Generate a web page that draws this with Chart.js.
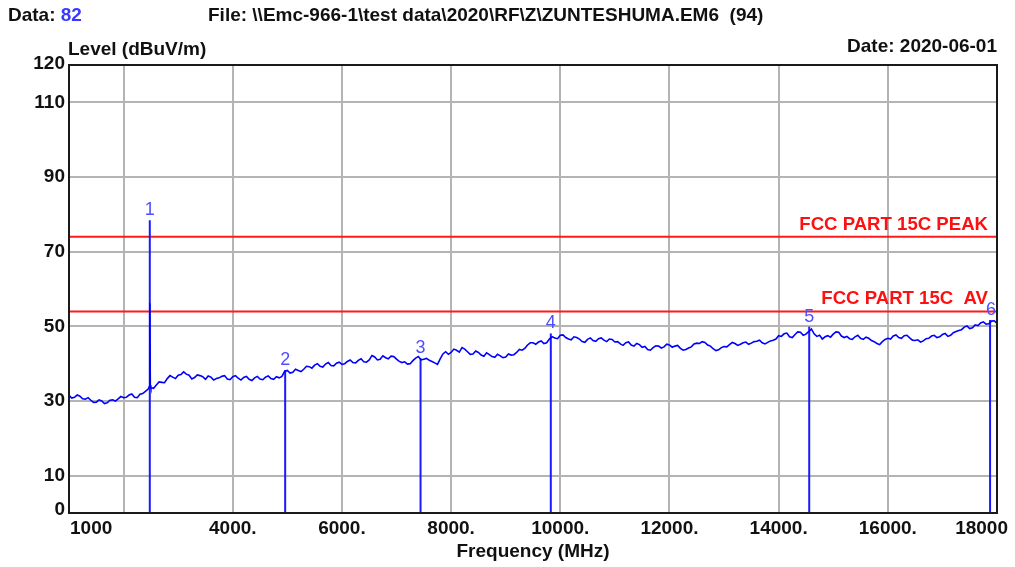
<!DOCTYPE html>
<html>
<head>
<meta charset="utf-8">
<script src="https://cdn.jsdelivr.net/npm/chart.js@4.4.1/dist/chart.umd.min.js"></script>
<style>
  html, body { margin: 0; padding: 0; background: #ffffff; }
  #wrap { width: 1015px; height: 567px; position: relative; }
  canvas { display: block; }
</style>
</head>
<body>
<div id="wrap"><canvas id="c" width="1015" height="567"></canvas></div>
<script>
// ---------------- data ----------------
// sweep readings at 1000, 1100, ... 18000 MHz
const traceStartMHz = 1000;
const traceStepMHz = 100;
const traceLevels = [
  31.5, 31.0, 31.3, 30.5, 30.2, 29.7, 30.0, 29.5, 30.3, 30.6,
  30.9, 31.6, 31.0, 31.8, 32.6, 33.6, 34.3, 35.0, 36.0, 36.4,
  36.9, 37.8, 36.9, 36.3, 36.8, 35.8, 36.4, 36.0, 36.6, 35.9,
  36.5, 36.1, 36.3, 35.8, 36.2, 35.9, 36.4, 36.0, 36.5, 36.6,
  38.2, 37.7, 38.2, 38.5, 39.2, 39.6, 39.3, 39.9, 39.5, 40.1,
  39.8, 40.6, 40.3, 40.9, 40.5, 41.0, 41.8, 41.2, 41.6, 42.0,
  41.2, 40.3, 39.9, 40.8, 41.9, 41.2, 40.9, 40.2, 41.3, 43.2,
  43.0, 43.6, 44.3, 43.2, 42.6, 43.0, 42.0, 42.4, 41.7, 42.1,
  41.8, 42.3, 43.0, 43.6, 45.0, 45.6, 45.8, 45.4, 46.6, 46.9,
  47.6, 47.0, 46.4, 47.0, 45.9, 46.5, 46.2, 46.7, 46.3, 46.6,
  45.8, 45.3, 45.6, 45.0, 45.4, 44.4, 43.8, 44.3, 44.7, 44.5,
  45.0, 44.7, 44.1, 43.8, 44.5, 45.5, 45.9, 45.0, 44.0, 43.7,
  44.6, 45.1, 45.4, 45.2, 45.8, 45.5, 46.0, 45.6, 45.7, 46.3,
  47.5, 48.0, 47.2, 47.8, 48.4, 47.9, 49.3, 47.3, 46.6, 47.5,
  47.9, 48.4, 47.0, 46.7, 47.2, 46.8, 47.1, 46.2, 45.4, 45.9,
  46.8, 47.4, 47.0, 47.5, 46.9, 46.2, 45.8, 46.7, 47.4, 47.0,
  47.8, 47.3, 48.3, 48.9, 49.8, 49.4, 50.4, 50.9, 50.6, 51.4,
  50.8
];
// sweep readings at 1050, 1150, ... 17950 MHz
const traceMidStartMHz = 1050;
const traceMidLevels = [
  30.8, 31.6, 30.6, 30.9, 29.6, 30.3, 29.3, 30.2, 30.0, 31.2,
  31.0, 31.9, 30.9, 32.0, 33.2, 33.4, 35.1, 34.9, 36.8, 36.0,
  37.1, 37.2, 35.9, 37.0, 36.5, 36.7, 35.6, 36.2, 36.8, 35.7,
  36.8, 35.6, 36.6, 35.5, 36.6, 35.7, 36.7, 35.8, 36.2, 37.9,
  37.5, 38.5, 37.9, 39.3, 38.8, 40.0, 39.1, 40.3, 39.4, 40.4,
  40.0, 41.0, 40.2, 41.3, 40.4, 42.2, 41.0, 42.1, 41.3, 41.9,
  40.6, 40.5, 40.0, 41.5, 41.0, 41.4, 40.6, 39.8, 42.6, 42.5,
  43.9, 43.1, 43.9, 42.5, 43.4, 42.3, 42.9, 41.9, 42.5, 41.6,
  42.6, 42.4, 43.8, 44.1, 45.6, 45.2, 46.1, 45.6, 47.2, 46.7,
  47.7, 46.6, 47.2, 46.6, 45.7, 46.9, 46.0, 46.9, 45.9, 46.5,
  45.9, 44.9, 45.8, 44.7, 45.1, 44.6, 43.6, 44.8, 44.2, 45.2,
  44.4, 44.9, 43.6, 44.2, 45.3, 45.4, 45.7, 44.7, 43.5, 44.3,
  44.5, 45.7, 44.9, 45.6, 45.2, 45.9, 46.3, 45.3, 46.1, 46.6,
  47.3, 48.2, 47.0, 48.5, 47.6, 48.6, 48.0, 47.6, 47.2, 47.1,
  48.5, 47.4, 47.3, 46.5, 47.6, 46.5, 46.8, 45.9, 45.1, 46.5,
  46.6, 47.7, 46.8, 47.6, 46.3, 46.4, 46.1, 46.8, 47.6, 47.2,
  48.1, 47.6, 48.6, 49.1, 50.1, 49.6, 50.2, 51.2, 50.7, 51.5
];
// narrow carrier spike in the trace
const spikeFreqs = [2470, 2480, 2490];
const spikeLevels = [33.8, 56.2, 34.2];

// markers
const markerNames = ['1', '2', '3', '4', '5', '6'];
const markerFreqs = [2480, 4960, 7440, 9826, 14560, 17873];
const markerLevels = [78.4, 38.3, 41.5, 48.1, 49.9, 51.7];

// limit lines
const limitNames = ['FCC PART 15C PEAK', 'FCC PART 15C  AV'];
const limitLevels = [74, 54];

// axes
const xMin = 1000, xMax = 18000;
const xGridValues = [2000, 4000, 6000, 8000, 10000, 12000, 14000, 16000, 18000];
const xTickValues = [1000, 4000, 6000, 8000, 10000, 12000, 14000, 16000, 18000];
const xTickLabels = ['1000', '4000.', '6000.', '8000.', '10000.', '12000.', '14000.', '16000.', '18000'];
const yMin = 0, yMax = 120;
const yTickValues = [0, 10, 30, 50, 70, 90, 110, 120];
const yTickLabels = ['0', '10', '30', '50', '70', '90', '110', '120'];

const headerData = '82';
const headerFile = 'File: \\\\Emc-966-1\\test data\\2020\\RF\\Z\\ZUNTESHUMA.EM6  (94)';
const headerDate = 'Date: 2020-06-01';
const yTitle = 'Level (dBuV/m)';
const xTitle = 'Frequency (MHz)';

// ---------------- build ----------------
const tracePts = traceLevels.map((v, i) => ({ x: traceStartMHz + i * traceStepMHz, y: v }));
traceMidLevels.forEach((v, i) => tracePts.push({ x: traceMidStartMHz + i * traceStepMHz, y: v }));
spikeFreqs.forEach((f, i) => tracePts.push({ x: f, y: spikeLevels[i] }));
tracePts.sort((a, b) => a.x - b.x);

const FONT = '"Liberation Sans", Arial, sans-serif';
const TXT = '#111111';

const datasets = [];
datasets.push({
  label: 'trace', data: tracePts, borderColor: '#0000ff', borderWidth: 1.6,
  pointRadius: 0, tension: 0, order: 1
});
markerFreqs.forEach((f, i) => {
  datasets.push({
    label: 'marker' + markerNames[i],
    data: [{ x: f, y: 0 }, { x: f, y: markerLevels[i] }],
    borderColor: '#1a1aff', borderWidth: 2, pointRadius: 0, order: 2
  });
});
limitLevels.forEach((v, i) => {
  datasets.push({
    label: limitNames[i],
    data: [{ x: xMin, y: v }, { x: xMax, y: v }],
    borderColor: '#ff1a1a', borderWidth: 2, pointRadius: 0, order: 3
  });
});

const decor = {
  id: 'decor',
  afterDraw(chart) {
    const c = chart.ctx;
    const a = chart.chartArea;
    const xs = chart.scales.x, ys = chart.scales.y;
    c.save();
    // plot border
    c.strokeStyle = '#1a1a1a';
    c.lineWidth = 2;
    c.strokeRect(a.left, a.top, a.right - a.left, a.bottom - a.top);

    // y tick labels
    c.fillStyle = TXT;
    c.font = 'bold 19px ' + FONT;
    c.textAlign = 'right';
    c.textBaseline = 'middle';
    yTickValues.forEach((v, i) => {
      let y = ys.getPixelForValue(v);
      if (v === yMin) y -= 3;
      if (v === yMax) y -= 1;
      c.fillText(yTickLabels[i], a.left - 4, y);
    });
    // x tick labels
    xTickValues.forEach((v, i) => {
      const x = xs.getPixelForValue(v);
      if (i === 0) { c.textAlign = 'left'; c.fillText(xTickLabels[i], x + 1, 529); }
      else if (i === xTickValues.length - 1) { c.textAlign = 'right'; c.fillText(xTickLabels[i], x + 11, 529); }
      else { c.textAlign = 'center'; c.fillText(xTickLabels[i], x, 529); }
    });
    // titles
    c.textAlign = 'center';
    c.fillText(xTitle, xs.getPixelForValue(9500), 552);
    c.textAlign = 'left';
    c.fillText(yTitle, a.left - 1, 50);
    c.textAlign = 'right';
    c.fillText(headerDate, a.right, 47);
    // header
    c.textAlign = 'left';
    c.fillText('Data: ', 8, 16);
    const w = c.measureText('Data: ').width;
    c.fillStyle = '#3a3aff';
    c.fillText(headerData, 8 + w, 16);
    c.fillStyle = TXT;
    c.fillText(headerFile, 208, 16);

    // limit labels
    c.fillStyle = '#ff1010';
    c.font = 'bold 18.6px ' + FONT;
    c.textAlign = 'right';
    c.textBaseline = 'alphabetic';
    limitLevels.forEach((v, i) => {
      c.fillText(limitNames[i], a.right - 9, ys.getPixelForValue(v) - 7);
    });

    // marker labels
    c.fillStyle = '#4f4fff';
    c.font = '18px ' + FONT;
    c.textAlign = 'center';
    markerFreqs.forEach((f, i) => {
      c.fillText(markerNames[i], xs.getPixelForValue(f) + (i === 5 ? 1 : 0), ys.getPixelForValue(markerLevels[i]) - 5);
    });
    c.restore();
  }
};

new Chart(document.getElementById('c').getContext('2d'), {
  type: 'line',
  data: { datasets },
  options: {
    responsive: false,
    animation: false,
    devicePixelRatio: 1,
    layout: { padding: { left: 69, right: 18, top: 65, bottom: 54 } },
    plugins: { legend: { display: false }, tooltip: { enabled: false } },
    elements: { point: { radius: 0 }, line: { tension: 0 } },
    scales: {
      x: {
        type: 'linear', min: xMin, max: xMax,
        afterBuildTicks: s => { s.ticks = xGridValues.map(v => ({ value: v })); },
        ticks: { display: false },
        grid: { color: '#b4b4b4', lineWidth: 2, drawTicks: false },
        border: { display: false }
      },
      y: {
        type: 'linear', min: yMin, max: yMax,
        afterBuildTicks: s => { s.ticks = yTickValues.map(v => ({ value: v })); },
        ticks: { display: false },
        grid: { color: '#b4b4b4', lineWidth: 2, drawTicks: false },
        border: { display: false }
      }
    }
  },
  plugins: [decor]
});
</script>
</body>
</html>
